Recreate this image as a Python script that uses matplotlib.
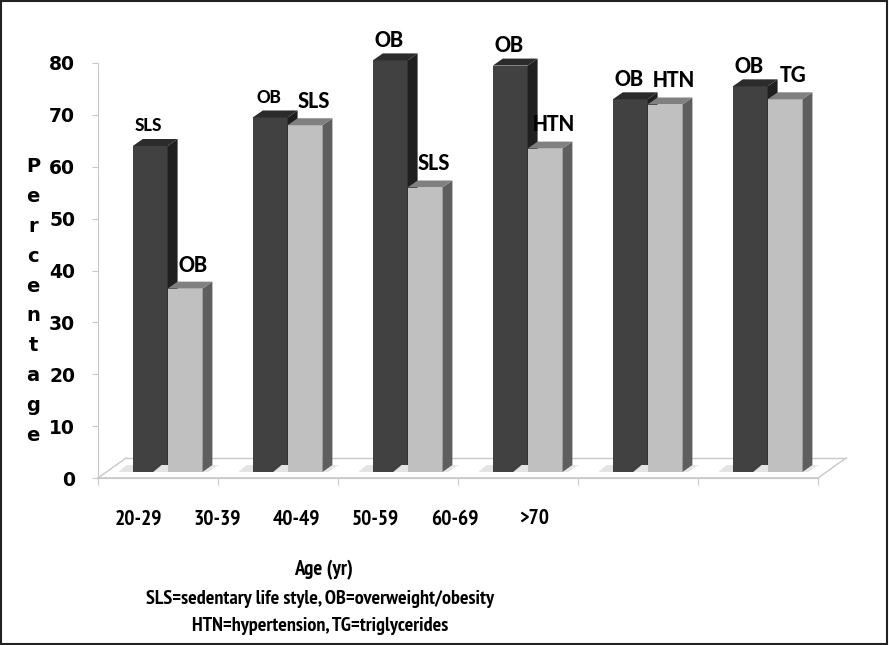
import matplotlib
matplotlib.use("Agg")
import matplotlib.pyplot as plt
from matplotlib.patches import Polygon, Rectangle

# ---- data ----
categories = ["20-29", "30-39", "40-49", "50-59", "60-69", ">70"]
first_vals = [64, 69.5, 80.5, 79.5, 73, 75.5]
second_vals = [36.5, 68, 56, 63.5, 72, 73]
first_labels = ["SLS", "OB", "OB", "OB", "OB", "OB"]
second_labels = ["OB", "SLS", "SLS", "HTN", "HTN", "TG"]
first_label_sizes = [14.5, 14.5, 17, 17, 17, 17]
second_label_sizes = [17, 17, 17, 17, 17, 17]
y_ticks = [0, 10, 20, 30, 40, 50, 60, 70, 80]
ylabel_text = "Percentage"
xlabel_text = "Age (yr)"
note1 = "SLS=sedentary life style, OB=overweight/obesity"
note2 = "HTN=hypertension, TG=triglycerides"

W, H = 889, 645
fig = plt.figure(figsize=(W / 100, H / 100), dpi=100)
fig.patch.set_facecolor("white")

px_x = 120.0      # pixels per category
px_y = 5.1875     # pixels per unit
x_lo, x_hi = -0.5, 5.8
y_lo, y_hi = 0, 82
ax_left_px, ax_bottom_px = 98, 478
ax = fig.add_axes([ax_left_px / W, 1 - ax_bottom_px / H,
                   (x_hi - x_lo) * px_x / W, (y_hi - y_lo) * px_y / H])
ax.set_xlim(x_lo, x_hi)
ax.set_ylim(y_lo, y_hi)
ax.set_facecolor("none")

depth_x = 10 / px_x
depth_y = 7 / px_y
floor_dx = 28 / px_x
floor_dy = 20 / px_y
base = 6 / px_y
bar_w = 0.29
n = len(categories)
grid_col = "#c8c8c8"

# floor
ax.plot([x_lo, n - 0.5], [0, 0], color=grid_col, lw=1.2, zorder=1, clip_on=False)
ax.plot([x_lo + floor_dx, n - 0.5 + floor_dx], [floor_dy, floor_dy], color=grid_col, lw=1.0, zorder=1)
ax.plot([x_lo, x_lo + floor_dx], [0, floor_dy], color=grid_col, lw=1.0, zorder=1)
ax.plot([n - 0.5, n - 0.5 + floor_dx], [0, floor_dy], color=grid_col, lw=1.0, zorder=1)


def bar3d(x0, top, front, side, topc, z):
    x1 = x0 + bar_w
    # shadow on floor
    ax.add_patch(Polygon([(x0 - 0.12, base), (x1 + 0.05, base), (x1 + depth_x + 0.05, base + depth_y),
                          (x0 - 0.05, base + depth_y)], closed=True, facecolor="#e4e4e4",
                         edgecolor="none", zorder=z - 0.5))
    ax.bar(x0, top - base, bottom=base, width=bar_w, align="edge", color=front,
           edgecolor="none", zorder=z)
    ax.add_patch(Polygon([(x1, base), (x1 + depth_x, base + depth_y), (x1 + depth_x, top + depth_y), (x1, top)],
                         closed=True, facecolor=side, edgecolor="none", zorder=z))
    ax.add_patch(Polygon([(x0, top), (x0 + depth_x, top + depth_y), (x1 + depth_x, top + depth_y), (x1, top)],
                         closed=True, facecolor=topc, edgecolor="none", zorder=z))


lab_font = ["Carlito", "DejaVu Sans"]
for i in range(n):
    xd = i - 0.21
    xl = xd + bar_w
    bar3d(xd, first_vals[i], "#414141", "#1f1f1f", "#2b2b2b", 3 + 2 * i)
    bar3d(xl, second_vals[i], "#c0c0c0", "#5e5e5e", "#808080", 4 + 2 * i)
    ax.annotate(first_labels[i], xy=(xd + bar_w / 2, first_vals[i]), xytext=(-1, 14.5),
                textcoords="offset points", ha="center", va="center",
                fontsize=first_label_sizes[i], fontweight="bold", family=lab_font, zorder=20)
    ax.annotate(second_labels[i], xy=(xl + bar_w / 2, second_vals[i]), xytext=(6, 17),
                textcoords="offset points", ha="center", va="center",
                fontsize=second_label_sizes[i], fontweight="bold", family=lab_font, zorder=20)

# axes styling
for s in ["top", "right"]:
    ax.spines[s].set_visible(False)
ax.spines["left"].set_color(grid_col)
ax.spines["left"].set_bounds(0, 80)
ax.spines["bottom"].set_color(grid_col)
ax.spines["bottom"].set_bounds(-0.5, n - 0.5)
ax.set_yticks(y_ticks)
ax.set_yticklabels([str(v) for v in y_ticks], fontsize=13.5, fontweight="bold", family="DejaVu Sans")
ax.tick_params(axis="y", length=4.5, color=grid_col, pad=12)
ax.set_xticks([k - 0.5 for k in range(n + 1)])
ax.set_xticklabels([])
ax.tick_params(axis="x", length=5, color=grid_col)

# x category labels (compressed placement as in the reference)
cond = ["PT Sans Narrow", "Fira Sans Condensed", "DejaVu Sans"]
for i, c in enumerate(categories):
    fig.text((138 + i * 79.2) / W, 1 - 519 / H, c, ha="center", va="center",
             fontsize=15.5, fontweight="bold", family=cond)

# vertical stacked y label
for k, ch in enumerate(ylabel_text):
    fig.text(33 / W, 1 - (167 + k * 29.8) / H, ch, ha="center", va="center",
             fontsize=14, fontweight="bold", family="DejaVu Sans")

fig.text(323 / W, 1 - 570 / H, xlabel_text, ha="center", va="center",
         fontsize=15, fontweight="bold", family=cond)
fig.text(320 / W, 1 - 599 / H, note1, ha="center", va="center",
         fontsize=14.5, fontweight="bold", family=cond)
fig.text(320 / W, 1 - 626 / H, note2, ha="center", va="center",
         fontsize=14.5, fontweight="bold", family=cond)

fig.patches.append(Rectangle((0.001, 0.002), 0.997, 0.996, transform=fig.transFigure,
                             fill=False, edgecolor="#222222", lw=1.5))

fig.savefig("out.png", dpi=100)
